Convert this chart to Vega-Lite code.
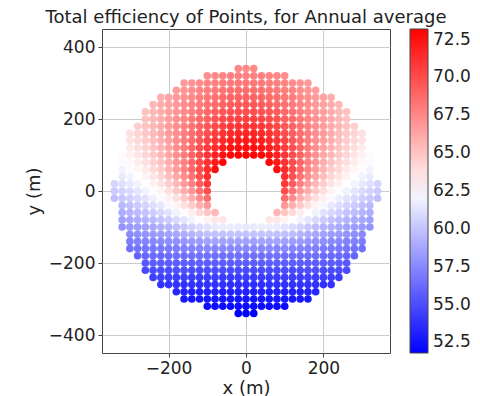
{"$schema":"https://vega.github.io/schema/vega-lite/v6.json","width":288,"height":324,"autosize":{"type":"none"},"padding":{"left":102,"top":29,"right":90,"bottom":43},"background":"white",
"title":{"text":"Total efficiency of Points, for Annual average","font":"DejaVu Sans","fontSize":18,"fontWeight":"normal","color":"#222222","frame":"group","anchor":"middle","baseline":"alphabetic","offset":5,"dy":17},
"config":{"view":{"stroke":"#444444","strokeWidth":1},"axis":{"labelFont":"DejaVu Sans","labelFontSize":17,"labelColor":"#222222","titleFont":"DejaVu Sans","titleFontSize":18,"titleFontWeight":"normal","titleColor":"#222222","tickColor":"#444444","tickSize":4,"labelPadding":3,"domain":false,"gridColor":"#cccccc","gridWidth":1,"zindex":1}},
"data":{"values":[
{"x":-20,"y":340,"e":67.5},{"x":0,"y":340,"e":67.5},{"x":20,"y":340,"e":67.5},
{"x":-100,"y":320,"e":67.3},{"x":-80,"y":320,"e":67.5},{"x":-60,"y":320,"e":67.6},{"x":-40,"y":320,"e":67.8},{"x":-20,"y":320,"e":67.8},{"x":0,"y":320,"e":67.8},{"x":20,"y":320,"e":67.8},{"x":40,"y":320,"e":67.8},{"x":60,"y":320,"e":67.6},{"x":80,"y":320,"e":67.5},{"x":100,"y":320,"e":67.3},
{"x":-160,"y":300,"e":66.7},{"x":-140,"y":300,"e":67.0},{"x":-120,"y":300,"e":67.3},{"x":-100,"y":300,"e":67.6},{"x":-80,"y":300,"e":67.8},{"x":-60,"y":300,"e":68.0},{"x":-40,"y":300,"e":68.1},{"x":-20,"y":300,"e":68.2},{"x":0,"y":300,"e":68.2},{"x":20,"y":300,"e":68.2},{"x":40,"y":300,"e":68.1},{"x":60,"y":300,"e":68.0},{"x":80,"y":300,"e":67.8},{"x":100,"y":300,"e":67.6},{"x":120,"y":300,"e":67.3},{"x":140,"y":300,"e":67.0},{"x":160,"y":300,"e":66.7},
{"x":-180,"y":280,"e":66.6},{"x":-160,"y":280,"e":66.9},{"x":-140,"y":280,"e":67.3},{"x":-120,"y":280,"e":67.6},{"x":-100,"y":280,"e":67.9},{"x":-80,"y":280,"e":68.1},{"x":-60,"y":280,"e":68.3},{"x":-40,"y":280,"e":68.5},{"x":-20,"y":280,"e":68.6},{"x":0,"y":280,"e":68.6},{"x":20,"y":280,"e":68.6},{"x":40,"y":280,"e":68.5},{"x":60,"y":280,"e":68.3},{"x":80,"y":280,"e":68.1},{"x":100,"y":280,"e":67.9},{"x":120,"y":280,"e":67.6},{"x":140,"y":280,"e":67.3},{"x":160,"y":280,"e":66.9},{"x":180,"y":280,"e":66.6},
{"x":-220,"y":260,"e":65.9},{"x":-200,"y":260,"e":66.3},{"x":-180,"y":260,"e":66.7},{"x":-160,"y":260,"e":67.1},{"x":-140,"y":260,"e":67.5},{"x":-120,"y":260,"e":67.9},{"x":-100,"y":260,"e":68.2},{"x":-80,"y":260,"e":68.5},{"x":-60,"y":260,"e":68.7},{"x":-40,"y":260,"e":68.9},{"x":-20,"y":260,"e":69.0},{"x":0,"y":260,"e":69.0},{"x":20,"y":260,"e":69.0},{"x":40,"y":260,"e":68.9},{"x":60,"y":260,"e":68.7},{"x":80,"y":260,"e":68.5},{"x":100,"y":260,"e":68.2},{"x":120,"y":260,"e":67.9},{"x":140,"y":260,"e":67.5},{"x":160,"y":260,"e":67.1},{"x":180,"y":260,"e":66.7},{"x":200,"y":260,"e":66.3},{"x":220,"y":260,"e":65.9},
{"x":-240,"y":240,"e":65.5},{"x":-220,"y":240,"e":66.0},{"x":-200,"y":240,"e":66.4},{"x":-180,"y":240,"e":66.8},{"x":-160,"y":240,"e":67.3},{"x":-140,"y":240,"e":67.7},{"x":-120,"y":240,"e":68.1},{"x":-100,"y":240,"e":68.5},{"x":-80,"y":240,"e":68.8},{"x":-60,"y":240,"e":69.1},{"x":-40,"y":240,"e":69.3},{"x":-20,"y":240,"e":69.5},{"x":0,"y":240,"e":69.5},{"x":20,"y":240,"e":69.5},{"x":40,"y":240,"e":69.3},{"x":60,"y":240,"e":69.1},{"x":80,"y":240,"e":68.8},{"x":100,"y":240,"e":68.5},{"x":120,"y":240,"e":68.1},{"x":140,"y":240,"e":67.7},{"x":160,"y":240,"e":67.3},{"x":180,"y":240,"e":66.8},{"x":200,"y":240,"e":66.4},{"x":220,"y":240,"e":66.0},{"x":240,"y":240,"e":65.5},
{"x":-260,"y":220,"e":65.1},{"x":-240,"y":220,"e":65.5},{"x":-220,"y":220,"e":66.0},{"x":-200,"y":220,"e":66.5},{"x":-180,"y":220,"e":67.0},{"x":-160,"y":220,"e":67.5},{"x":-140,"y":220,"e":67.9},{"x":-120,"y":220,"e":68.4},{"x":-100,"y":220,"e":68.9},{"x":-80,"y":220,"e":69.3},{"x":-60,"y":220,"e":69.6},{"x":-40,"y":220,"e":69.8},{"x":-20,"y":220,"e":70.0},{"x":0,"y":220,"e":70.0},{"x":20,"y":220,"e":70.0},{"x":40,"y":220,"e":69.8},{"x":60,"y":220,"e":69.6},{"x":80,"y":220,"e":69.3},{"x":100,"y":220,"e":68.9},{"x":120,"y":220,"e":68.4},{"x":140,"y":220,"e":67.9},{"x":160,"y":220,"e":67.5},{"x":180,"y":220,"e":67.0},{"x":200,"y":220,"e":66.5},{"x":220,"y":220,"e":66.0},{"x":240,"y":220,"e":65.5},{"x":260,"y":220,"e":65.1},
{"x":-260,"y":200,"e":65.0},{"x":-240,"y":200,"e":65.5},{"x":-220,"y":200,"e":66.0},{"x":-200,"y":200,"e":66.6},{"x":-180,"y":200,"e":67.1},{"x":-160,"y":200,"e":67.6},{"x":-140,"y":200,"e":68.2},{"x":-120,"y":200,"e":68.7},{"x":-100,"y":200,"e":69.2},{"x":-80,"y":200,"e":69.7},{"x":-60,"y":200,"e":70.1},{"x":-40,"y":200,"e":70.3},{"x":-20,"y":200,"e":70.5},{"x":0,"y":200,"e":70.6},{"x":20,"y":200,"e":70.5},{"x":40,"y":200,"e":70.3},{"x":60,"y":200,"e":70.1},{"x":80,"y":200,"e":69.7},{"x":100,"y":200,"e":69.2},{"x":120,"y":200,"e":68.7},{"x":140,"y":200,"e":68.2},{"x":160,"y":200,"e":67.6},{"x":180,"y":200,"e":67.1},{"x":200,"y":200,"e":66.6},{"x":220,"y":200,"e":66.0},{"x":240,"y":200,"e":65.5},{"x":260,"y":200,"e":65.0},
{"x":-280,"y":180,"e":64.5},{"x":-260,"y":180,"e":65.0},{"x":-240,"y":180,"e":65.5},{"x":-220,"y":180,"e":66.0},{"x":-200,"y":180,"e":66.6},{"x":-180,"y":180,"e":67.2},{"x":-160,"y":180,"e":67.8},{"x":-140,"y":180,"e":68.4},{"x":-120,"y":180,"e":69.0},{"x":-100,"y":180,"e":69.6},{"x":-80,"y":180,"e":70.1},{"x":-60,"y":180,"e":70.5},{"x":-40,"y":180,"e":70.9},{"x":-20,"y":180,"e":71.0},{"x":0,"y":180,"e":71.1},{"x":20,"y":180,"e":71.0},{"x":40,"y":180,"e":70.9},{"x":60,"y":180,"e":70.5},{"x":80,"y":180,"e":70.1},{"x":100,"y":180,"e":69.6},{"x":120,"y":180,"e":69.0},{"x":140,"y":180,"e":68.4},{"x":160,"y":180,"e":67.8},{"x":180,"y":180,"e":67.2},{"x":200,"y":180,"e":66.6},{"x":220,"y":180,"e":66.0},{"x":240,"y":180,"e":65.5},{"x":260,"y":180,"e":65.0},{"x":280,"y":180,"e":64.5},
{"x":-300,"y":160,"e":63.8},{"x":-280,"y":160,"e":64.3},{"x":-260,"y":160,"e":64.8},{"x":-240,"y":160,"e":65.4},{"x":-220,"y":160,"e":66.0},{"x":-200,"y":160,"e":66.6},{"x":-180,"y":160,"e":67.2},{"x":-160,"y":160,"e":67.9},{"x":-140,"y":160,"e":68.6},{"x":-120,"y":160,"e":69.3},{"x":-100,"y":160,"e":70.0},{"x":-80,"y":160,"e":70.6},{"x":-60,"y":160,"e":71.0},{"x":-40,"y":160,"e":71.4},{"x":-20,"y":160,"e":71.6},{"x":0,"y":160,"e":71.7},{"x":20,"y":160,"e":71.6},{"x":40,"y":160,"e":71.4},{"x":60,"y":160,"e":71.0},{"x":80,"y":160,"e":70.6},{"x":100,"y":160,"e":70.0},{"x":120,"y":160,"e":69.3},{"x":140,"y":160,"e":68.6},{"x":160,"y":160,"e":67.9},{"x":180,"y":160,"e":67.2},{"x":200,"y":160,"e":66.6},{"x":220,"y":160,"e":66.0},{"x":240,"y":160,"e":65.4},{"x":260,"y":160,"e":64.8},{"x":280,"y":160,"e":64.3},{"x":300,"y":160,"e":63.8},
{"x":-300,"y":140,"e":63.7},{"x":-280,"y":140,"e":64.1},{"x":-260,"y":140,"e":64.7},{"x":-240,"y":140,"e":65.2},{"x":-220,"y":140,"e":65.8},{"x":-200,"y":140,"e":66.5},{"x":-180,"y":140,"e":67.2},{"x":-160,"y":140,"e":68.0},{"x":-140,"y":140,"e":68.8},{"x":-120,"y":140,"e":69.6},{"x":-100,"y":140,"e":70.4},{"x":-80,"y":140,"e":71.0},{"x":-60,"y":140,"e":71.5},{"x":-40,"y":140,"e":71.9},{"x":-20,"y":140,"e":72.1},{"x":0,"y":140,"e":72.2},{"x":20,"y":140,"e":72.1},{"x":40,"y":140,"e":71.9},{"x":60,"y":140,"e":71.5},{"x":80,"y":140,"e":71.0},{"x":100,"y":140,"e":70.4},{"x":120,"y":140,"e":69.6},{"x":140,"y":140,"e":68.8},{"x":160,"y":140,"e":68.0},{"x":180,"y":140,"e":67.2},{"x":200,"y":140,"e":66.5},{"x":220,"y":140,"e":65.8},{"x":240,"y":140,"e":65.2},{"x":260,"y":140,"e":64.7},{"x":280,"y":140,"e":64.1},{"x":300,"y":140,"e":63.7},
{"x":-300,"y":120,"e":63.4},{"x":-280,"y":120,"e":63.9},{"x":-260,"y":120,"e":64.4},{"x":-240,"y":120,"e":65.0},{"x":-220,"y":120,"e":65.7},{"x":-200,"y":120,"e":66.4},{"x":-180,"y":120,"e":67.2},{"x":-160,"y":120,"e":68.1},{"x":-140,"y":120,"e":69.0},{"x":-120,"y":120,"e":69.9},{"x":-100,"y":120,"e":70.7},{"x":-80,"y":120,"e":71.4},{"x":-60,"y":120,"e":72.0},{"x":-40,"y":120,"e":72.4},{"x":-20,"y":120,"e":72.6},{"x":0,"y":120,"e":72.7},{"x":20,"y":120,"e":72.6},{"x":40,"y":120,"e":72.4},{"x":60,"y":120,"e":72.0},{"x":80,"y":120,"e":71.4},{"x":100,"y":120,"e":70.7},{"x":120,"y":120,"e":69.9},{"x":140,"y":120,"e":69.0},{"x":160,"y":120,"e":68.1},{"x":180,"y":120,"e":67.2},{"x":200,"y":120,"e":66.4},{"x":220,"y":120,"e":65.7},{"x":240,"y":120,"e":65.0},{"x":260,"y":120,"e":64.4},{"x":280,"y":120,"e":63.9},{"x":300,"y":120,"e":63.4},
{"x":-320,"y":100,"e":62.7},{"x":-300,"y":100,"e":63.1},{"x":-280,"y":100,"e":63.6},{"x":-260,"y":100,"e":64.2},{"x":-240,"y":100,"e":64.8},{"x":-220,"y":100,"e":65.5},{"x":-200,"y":100,"e":66.2},{"x":-180,"y":100,"e":67.1},{"x":-160,"y":100,"e":68.1},{"x":-140,"y":100,"e":69.1},{"x":-120,"y":100,"e":70.0},{"x":-100,"y":100,"e":71.0},{"x":-80,"y":100,"e":71.8},{"x":-60,"y":100,"e":72.5},{"x":-40,"y":100,"e":72.9},{"x":-20,"y":100,"e":73.1},{"x":0,"y":100,"e":73.2},{"x":20,"y":100,"e":73.1},{"x":40,"y":100,"e":72.9},{"x":60,"y":100,"e":72.5},{"x":80,"y":100,"e":71.8},{"x":100,"y":100,"e":71.0},{"x":120,"y":100,"e":70.0},{"x":140,"y":100,"e":69.1},{"x":160,"y":100,"e":68.1},{"x":180,"y":100,"e":67.1},{"x":200,"y":100,"e":66.2},{"x":220,"y":100,"e":65.5},{"x":240,"y":100,"e":64.8},{"x":260,"y":100,"e":64.2},{"x":280,"y":100,"e":63.6},{"x":300,"y":100,"e":63.1},{"x":320,"y":100,"e":62.7},
{"x":-320,"y":80,"e":62.3},{"x":-300,"y":80,"e":62.8},{"x":-280,"y":80,"e":63.3},{"x":-260,"y":80,"e":63.8},{"x":-240,"y":80,"e":64.4},{"x":-220,"y":80,"e":65.1},{"x":-200,"y":80,"e":65.9},{"x":-180,"y":80,"e":66.9},{"x":-160,"y":80,"e":67.9},{"x":-140,"y":80,"e":69.0},{"x":-120,"y":80,"e":70.1},{"x":-100,"y":80,"e":71.2},{"x":-80,"y":80,"e":72.2},{"x":-60,"y":80,"e":73.0},{"x":60,"y":80,"e":73.0},{"x":80,"y":80,"e":72.2},{"x":100,"y":80,"e":71.2},{"x":120,"y":80,"e":70.1},{"x":140,"y":80,"e":69.0},{"x":160,"y":80,"e":67.9},{"x":180,"y":80,"e":66.9},{"x":200,"y":80,"e":65.9},{"x":220,"y":80,"e":65.1},{"x":240,"y":80,"e":64.4},{"x":260,"y":80,"e":63.8},{"x":280,"y":80,"e":63.3},{"x":300,"y":80,"e":62.8},{"x":320,"y":80,"e":62.3},
{"x":-320,"y":60,"e":62.0},{"x":-300,"y":60,"e":62.4},{"x":-280,"y":60,"e":62.9},{"x":-260,"y":60,"e":63.4},{"x":-240,"y":60,"e":64.1},{"x":-220,"y":60,"e":64.7},{"x":-200,"y":60,"e":65.6},{"x":-180,"y":60,"e":66.6},{"x":-160,"y":60,"e":67.7},{"x":-140,"y":60,"e":68.9},{"x":-120,"y":60,"e":70.1},{"x":-100,"y":60,"e":71.4},{"x":-80,"y":60,"e":72.6},{"x":80,"y":60,"e":72.6},{"x":100,"y":60,"e":71.4},{"x":120,"y":60,"e":70.1},{"x":140,"y":60,"e":68.9},{"x":160,"y":60,"e":67.7},{"x":180,"y":60,"e":66.6},{"x":200,"y":60,"e":65.6},{"x":220,"y":60,"e":64.7},{"x":240,"y":60,"e":64.1},{"x":260,"y":60,"e":63.4},{"x":280,"y":60,"e":62.9},{"x":300,"y":60,"e":62.4},{"x":320,"y":60,"e":62.0},
{"x":-320,"y":40,"e":61.6},{"x":-300,"y":40,"e":62.0},{"x":-280,"y":40,"e":62.5},{"x":-260,"y":40,"e":63.0},{"x":-240,"y":40,"e":63.6},{"x":-220,"y":40,"e":64.2},{"x":-200,"y":40,"e":65.2},{"x":-180,"y":40,"e":66.2},{"x":-160,"y":40,"e":67.3},{"x":-140,"y":40,"e":68.5},{"x":-120,"y":40,"e":69.9},{"x":-100,"y":40,"e":71.3},{"x":100,"y":40,"e":71.3},{"x":120,"y":40,"e":69.9},{"x":140,"y":40,"e":68.5},{"x":160,"y":40,"e":67.3},{"x":180,"y":40,"e":66.2},{"x":200,"y":40,"e":65.2},{"x":220,"y":40,"e":64.2},{"x":240,"y":40,"e":63.6},{"x":260,"y":40,"e":63.0},{"x":280,"y":40,"e":62.5},{"x":300,"y":40,"e":62.0},{"x":320,"y":40,"e":61.6},
{"x":-340,"y":20,"e":60.7},{"x":-320,"y":20,"e":61.1},{"x":-300,"y":20,"e":61.5},{"x":-280,"y":20,"e":62.0},{"x":-260,"y":20,"e":62.5},{"x":-240,"y":20,"e":63.1},{"x":-220,"y":20,"e":63.7},{"x":-200,"y":20,"e":64.6},{"x":-180,"y":20,"e":65.5},{"x":-160,"y":20,"e":66.7},{"x":-140,"y":20,"e":67.9},{"x":-120,"y":20,"e":69.4},{"x":-100,"y":20,"e":70.9},{"x":100,"y":20,"e":70.9},{"x":120,"y":20,"e":69.4},{"x":140,"y":20,"e":67.9},{"x":160,"y":20,"e":66.7},{"x":180,"y":20,"e":65.5},{"x":200,"y":20,"e":64.6},{"x":220,"y":20,"e":63.7},{"x":240,"y":20,"e":63.1},{"x":260,"y":20,"e":62.5},{"x":280,"y":20,"e":62.0},{"x":300,"y":20,"e":61.5},{"x":320,"y":20,"e":61.1},{"x":340,"y":20,"e":60.7},
{"x":-340,"y":0,"e":60.3},{"x":-320,"y":0,"e":60.6},{"x":-300,"y":0,"e":61.0},{"x":-280,"y":0,"e":61.4},{"x":-260,"y":0,"e":61.9},{"x":-240,"y":0,"e":62.4},{"x":-220,"y":0,"e":63.0},{"x":-200,"y":0,"e":63.9},{"x":-180,"y":0,"e":64.8},{"x":-160,"y":0,"e":65.9},{"x":-140,"y":0,"e":67.0},{"x":-120,"y":0,"e":68.5},{"x":-100,"y":0,"e":70.0},{"x":100,"y":0,"e":70.0},{"x":120,"y":0,"e":68.5},{"x":140,"y":0,"e":67.0},{"x":160,"y":0,"e":65.9},{"x":180,"y":0,"e":64.8},{"x":200,"y":0,"e":63.9},{"x":220,"y":0,"e":63.0},{"x":240,"y":0,"e":62.4},{"x":260,"y":0,"e":61.9},{"x":280,"y":0,"e":61.4},{"x":300,"y":0,"e":61.0},{"x":320,"y":0,"e":60.6},{"x":340,"y":0,"e":60.3},
{"x":-340,"y":-20,"e":59.8},{"x":-320,"y":-20,"e":60.2},{"x":-300,"y":-20,"e":60.5},{"x":-280,"y":-20,"e":60.9},{"x":-260,"y":-20,"e":61.3},{"x":-240,"y":-20,"e":61.8},{"x":-220,"y":-20,"e":62.3},{"x":-200,"y":-20,"e":63.1},{"x":-180,"y":-20,"e":63.9},{"x":-160,"y":-20,"e":64.9},{"x":-140,"y":-20,"e":65.9},{"x":-120,"y":-20,"e":67.3},{"x":-100,"y":-20,"e":68.6},{"x":100,"y":-20,"e":68.6},{"x":120,"y":-20,"e":67.3},{"x":140,"y":-20,"e":65.9},{"x":160,"y":-20,"e":64.9},{"x":180,"y":-20,"e":63.9},{"x":200,"y":-20,"e":63.1},{"x":220,"y":-20,"e":62.3},{"x":240,"y":-20,"e":61.8},{"x":260,"y":-20,"e":61.3},{"x":280,"y":-20,"e":60.9},{"x":300,"y":-20,"e":60.5},{"x":320,"y":-20,"e":60.2},{"x":340,"y":-20,"e":59.8},
{"x":-320,"y":-40,"e":59.6},{"x":-300,"y":-40,"e":59.9},{"x":-280,"y":-40,"e":60.3},{"x":-260,"y":-40,"e":60.7},{"x":-240,"y":-40,"e":61.1},{"x":-220,"y":-40,"e":61.5},{"x":-200,"y":-40,"e":62.2},{"x":-180,"y":-40,"e":63.0},{"x":-160,"y":-40,"e":63.8},{"x":-140,"y":-40,"e":64.7},{"x":-120,"y":-40,"e":65.8},{"x":-100,"y":-40,"e":66.8},{"x":100,"y":-40,"e":66.8},{"x":120,"y":-40,"e":65.8},{"x":140,"y":-40,"e":64.7},{"x":160,"y":-40,"e":63.8},{"x":180,"y":-40,"e":63.0},{"x":200,"y":-40,"e":62.2},{"x":220,"y":-40,"e":61.5},{"x":240,"y":-40,"e":61.1},{"x":260,"y":-40,"e":60.7},{"x":280,"y":-40,"e":60.3},{"x":300,"y":-40,"e":59.9},{"x":320,"y":-40,"e":59.6},
{"x":-320,"y":-60,"e":59.1},{"x":-300,"y":-60,"e":59.4},{"x":-280,"y":-60,"e":59.7},{"x":-260,"y":-60,"e":60.0},{"x":-240,"y":-60,"e":60.4},{"x":-220,"y":-60,"e":60.8},{"x":-200,"y":-60,"e":61.3},{"x":-180,"y":-60,"e":61.9},{"x":-160,"y":-60,"e":62.6},{"x":-140,"y":-60,"e":63.3},{"x":-120,"y":-60,"e":64.1},{"x":-100,"y":-60,"e":64.9},{"x":-80,"y":-60,"e":65.5},{"x":80,"y":-60,"e":65.5},{"x":100,"y":-60,"e":64.9},{"x":120,"y":-60,"e":64.1},{"x":140,"y":-60,"e":63.3},{"x":160,"y":-60,"e":62.6},{"x":180,"y":-60,"e":61.9},{"x":200,"y":-60,"e":61.3},{"x":220,"y":-60,"e":60.8},{"x":240,"y":-60,"e":60.4},{"x":260,"y":-60,"e":60.0},{"x":280,"y":-60,"e":59.7},{"x":300,"y":-60,"e":59.4},{"x":320,"y":-60,"e":59.1},
{"x":-320,"y":-80,"e":58.5},{"x":-300,"y":-80,"e":58.8},{"x":-280,"y":-80,"e":59.0},{"x":-260,"y":-80,"e":59.3},{"x":-240,"y":-80,"e":59.6},{"x":-220,"y":-80,"e":60.0},{"x":-200,"y":-80,"e":60.3},{"x":-180,"y":-80,"e":60.9},{"x":-160,"y":-80,"e":61.4},{"x":-140,"y":-80,"e":62.0},{"x":-120,"y":-80,"e":62.5},{"x":-100,"y":-80,"e":63.0},{"x":-80,"y":-80,"e":63.5},{"x":-60,"y":-80,"e":63.6},{"x":60,"y":-80,"e":63.6},{"x":80,"y":-80,"e":63.5},{"x":100,"y":-80,"e":63.0},{"x":120,"y":-80,"e":62.5},{"x":140,"y":-80,"e":62.0},{"x":160,"y":-80,"e":61.4},{"x":180,"y":-80,"e":60.9},{"x":200,"y":-80,"e":60.3},{"x":220,"y":-80,"e":60.0},{"x":240,"y":-80,"e":59.6},{"x":260,"y":-80,"e":59.3},{"x":280,"y":-80,"e":59.0},{"x":300,"y":-80,"e":58.8},{"x":320,"y":-80,"e":58.5},
{"x":-320,"y":-100,"e":58.0},{"x":-300,"y":-100,"e":58.2},{"x":-280,"y":-100,"e":58.4},{"x":-260,"y":-100,"e":58.6},{"x":-240,"y":-100,"e":58.9},{"x":-220,"y":-100,"e":59.2},{"x":-200,"y":-100,"e":59.4},{"x":-180,"y":-100,"e":59.8},{"x":-160,"y":-100,"e":60.2},{"x":-140,"y":-100,"e":60.6},{"x":-120,"y":-100,"e":61.0},{"x":-100,"y":-100,"e":61.3},{"x":-80,"y":-100,"e":61.6},{"x":-60,"y":-100,"e":61.7},{"x":-40,"y":-100,"e":61.7},{"x":-20,"y":-100,"e":61.6},{"x":0,"y":-100,"e":61.5},{"x":20,"y":-100,"e":61.6},{"x":40,"y":-100,"e":61.7},{"x":60,"y":-100,"e":61.7},{"x":80,"y":-100,"e":61.6},{"x":100,"y":-100,"e":61.3},{"x":120,"y":-100,"e":61.0},{"x":140,"y":-100,"e":60.6},{"x":160,"y":-100,"e":60.2},{"x":180,"y":-100,"e":59.8},{"x":200,"y":-100,"e":59.4},{"x":220,"y":-100,"e":59.2},{"x":240,"y":-100,"e":58.9},{"x":260,"y":-100,"e":58.6},{"x":280,"y":-100,"e":58.4},{"x":300,"y":-100,"e":58.2},{"x":320,"y":-100,"e":58.0},
{"x":-300,"y":-120,"e":57.6},{"x":-280,"y":-120,"e":57.8},{"x":-260,"y":-120,"e":58.0},{"x":-240,"y":-120,"e":58.2},{"x":-220,"y":-120,"e":58.4},{"x":-200,"y":-120,"e":58.6},{"x":-180,"y":-120,"e":58.8},{"x":-160,"y":-120,"e":59.1},{"x":-140,"y":-120,"e":59.4},{"x":-120,"y":-120,"e":59.7},{"x":-100,"y":-120,"e":59.9},{"x":-80,"y":-120,"e":59.9},{"x":-60,"y":-120,"e":60.0},{"x":-40,"y":-120,"e":60.0},{"x":-20,"y":-120,"e":60.0},{"x":0,"y":-120,"e":60.0},{"x":20,"y":-120,"e":60.0},{"x":40,"y":-120,"e":60.0},{"x":60,"y":-120,"e":60.0},{"x":80,"y":-120,"e":59.9},{"x":100,"y":-120,"e":59.9},{"x":120,"y":-120,"e":59.7},{"x":140,"y":-120,"e":59.4},{"x":160,"y":-120,"e":59.1},{"x":180,"y":-120,"e":58.8},{"x":200,"y":-120,"e":58.6},{"x":220,"y":-120,"e":58.4},{"x":240,"y":-120,"e":58.2},{"x":260,"y":-120,"e":58.0},{"x":280,"y":-120,"e":57.8},{"x":300,"y":-120,"e":57.6},
{"x":-300,"y":-140,"e":57.0},{"x":-280,"y":-140,"e":57.2},{"x":-260,"y":-140,"e":57.3},{"x":-240,"y":-140,"e":57.5},{"x":-220,"y":-140,"e":57.6},{"x":-200,"y":-140,"e":57.8},{"x":-180,"y":-140,"e":57.9},{"x":-160,"y":-140,"e":58.1},{"x":-140,"y":-140,"e":58.3},{"x":-120,"y":-140,"e":58.4},{"x":-100,"y":-140,"e":58.6},{"x":-80,"y":-140,"e":58.7},{"x":-60,"y":-140,"e":58.6},{"x":-40,"y":-140,"e":58.6},{"x":-20,"y":-140,"e":58.5},{"x":0,"y":-140,"e":58.5},{"x":20,"y":-140,"e":58.5},{"x":40,"y":-140,"e":58.6},{"x":60,"y":-140,"e":58.6},{"x":80,"y":-140,"e":58.7},{"x":100,"y":-140,"e":58.6},{"x":120,"y":-140,"e":58.4},{"x":140,"y":-140,"e":58.3},{"x":160,"y":-140,"e":58.1},{"x":180,"y":-140,"e":57.9},{"x":200,"y":-140,"e":57.8},{"x":220,"y":-140,"e":57.6},{"x":240,"y":-140,"e":57.5},{"x":260,"y":-140,"e":57.3},{"x":280,"y":-140,"e":57.2},{"x":300,"y":-140,"e":57.0},
{"x":-300,"y":-160,"e":56.5},{"x":-280,"y":-160,"e":56.6},{"x":-260,"y":-160,"e":56.7},{"x":-240,"y":-160,"e":56.8},{"x":-220,"y":-160,"e":56.9},{"x":-200,"y":-160,"e":57.0},{"x":-180,"y":-160,"e":57.1},{"x":-160,"y":-160,"e":57.2},{"x":-140,"y":-160,"e":57.3},{"x":-120,"y":-160,"e":57.4},{"x":-100,"y":-160,"e":57.5},{"x":-80,"y":-160,"e":57.4},{"x":-60,"y":-160,"e":57.5},{"x":-40,"y":-160,"e":57.5},{"x":-20,"y":-160,"e":57.5},{"x":0,"y":-160,"e":57.5},{"x":20,"y":-160,"e":57.5},{"x":40,"y":-160,"e":57.5},{"x":60,"y":-160,"e":57.5},{"x":80,"y":-160,"e":57.4},{"x":100,"y":-160,"e":57.5},{"x":120,"y":-160,"e":57.4},{"x":140,"y":-160,"e":57.3},{"x":160,"y":-160,"e":57.2},{"x":180,"y":-160,"e":57.1},{"x":200,"y":-160,"e":57.0},{"x":220,"y":-160,"e":56.9},{"x":240,"y":-160,"e":56.8},{"x":260,"y":-160,"e":56.7},{"x":280,"y":-160,"e":56.6},{"x":300,"y":-160,"e":56.5},
{"x":-280,"y":-180,"e":56.0},{"x":-260,"y":-180,"e":56.1},{"x":-240,"y":-180,"e":56.2},{"x":-220,"y":-180,"e":56.2},{"x":-200,"y":-180,"e":56.3},{"x":-180,"y":-180,"e":56.4},{"x":-160,"y":-180,"e":56.4},{"x":-140,"y":-180,"e":56.5},{"x":-120,"y":-180,"e":56.5},{"x":-100,"y":-180,"e":56.5},{"x":-80,"y":-180,"e":56.5},{"x":-60,"y":-180,"e":56.5},{"x":-40,"y":-180,"e":56.5},{"x":-20,"y":-180,"e":56.4},{"x":0,"y":-180,"e":56.4},{"x":20,"y":-180,"e":56.4},{"x":40,"y":-180,"e":56.5},{"x":60,"y":-180,"e":56.5},{"x":80,"y":-180,"e":56.5},{"x":100,"y":-180,"e":56.5},{"x":120,"y":-180,"e":56.5},{"x":140,"y":-180,"e":56.5},{"x":160,"y":-180,"e":56.4},{"x":180,"y":-180,"e":56.4},{"x":200,"y":-180,"e":56.3},{"x":220,"y":-180,"e":56.2},{"x":240,"y":-180,"e":56.2},{"x":260,"y":-180,"e":56.1},{"x":280,"y":-180,"e":56.0},
{"x":-260,"y":-200,"e":55.5},{"x":-240,"y":-200,"e":55.6},{"x":-220,"y":-200,"e":55.6},{"x":-200,"y":-200,"e":55.7},{"x":-180,"y":-200,"e":55.7},{"x":-160,"y":-200,"e":55.7},{"x":-140,"y":-200,"e":55.7},{"x":-120,"y":-200,"e":55.7},{"x":-100,"y":-200,"e":55.7},{"x":-80,"y":-200,"e":55.7},{"x":-60,"y":-200,"e":55.7},{"x":-40,"y":-200,"e":55.7},{"x":-20,"y":-200,"e":55.7},{"x":0,"y":-200,"e":55.7},{"x":20,"y":-200,"e":55.7},{"x":40,"y":-200,"e":55.7},{"x":60,"y":-200,"e":55.7},{"x":80,"y":-200,"e":55.7},{"x":100,"y":-200,"e":55.7},{"x":120,"y":-200,"e":55.7},{"x":140,"y":-200,"e":55.7},{"x":160,"y":-200,"e":55.7},{"x":180,"y":-200,"e":55.7},{"x":200,"y":-200,"e":55.7},{"x":220,"y":-200,"e":55.6},{"x":240,"y":-200,"e":55.6},{"x":260,"y":-200,"e":55.5},
{"x":-260,"y":-220,"e":54.9},{"x":-240,"y":-220,"e":55.0},{"x":-220,"y":-220,"e":55.0},{"x":-200,"y":-220,"e":55.0},{"x":-180,"y":-220,"e":55.1},{"x":-160,"y":-220,"e":55.1},{"x":-140,"y":-220,"e":55.0},{"x":-120,"y":-220,"e":55.0},{"x":-100,"y":-220,"e":55.0},{"x":-80,"y":-220,"e":55.0},{"x":-60,"y":-220,"e":55.0},{"x":-40,"y":-220,"e":54.9},{"x":-20,"y":-220,"e":54.9},{"x":0,"y":-220,"e":54.9},{"x":20,"y":-220,"e":54.9},{"x":40,"y":-220,"e":54.9},{"x":60,"y":-220,"e":55.0},{"x":80,"y":-220,"e":55.0},{"x":100,"y":-220,"e":55.0},{"x":120,"y":-220,"e":55.0},{"x":140,"y":-220,"e":55.0},{"x":160,"y":-220,"e":55.1},{"x":180,"y":-220,"e":55.1},{"x":200,"y":-220,"e":55.0},{"x":220,"y":-220,"e":55.0},{"x":240,"y":-220,"e":55.0},{"x":260,"y":-220,"e":54.9},
{"x":-240,"y":-240,"e":54.4},{"x":-220,"y":-240,"e":54.5},{"x":-200,"y":-240,"e":54.5},{"x":-180,"y":-240,"e":54.4},{"x":-160,"y":-240,"e":54.5},{"x":-140,"y":-240,"e":54.4},{"x":-120,"y":-240,"e":54.4},{"x":-100,"y":-240,"e":54.4},{"x":-80,"y":-240,"e":54.4},{"x":-60,"y":-240,"e":54.3},{"x":-40,"y":-240,"e":54.3},{"x":-20,"y":-240,"e":54.3},{"x":0,"y":-240,"e":54.3},{"x":20,"y":-240,"e":54.3},{"x":40,"y":-240,"e":54.3},{"x":60,"y":-240,"e":54.3},{"x":80,"y":-240,"e":54.4},{"x":100,"y":-240,"e":54.4},{"x":120,"y":-240,"e":54.4},{"x":140,"y":-240,"e":54.4},{"x":160,"y":-240,"e":54.5},{"x":180,"y":-240,"e":54.4},{"x":200,"y":-240,"e":54.5},{"x":220,"y":-240,"e":54.5},{"x":240,"y":-240,"e":54.4},
{"x":-220,"y":-260,"e":53.9},{"x":-200,"y":-260,"e":53.9},{"x":-180,"y":-260,"e":53.9},{"x":-160,"y":-260,"e":53.9},{"x":-140,"y":-260,"e":53.9},{"x":-120,"y":-260,"e":53.8},{"x":-100,"y":-260,"e":53.8},{"x":-80,"y":-260,"e":53.8},{"x":-60,"y":-260,"e":53.8},{"x":-40,"y":-260,"e":53.7},{"x":-20,"y":-260,"e":53.7},{"x":0,"y":-260,"e":53.7},{"x":20,"y":-260,"e":53.7},{"x":40,"y":-260,"e":53.7},{"x":60,"y":-260,"e":53.8},{"x":80,"y":-260,"e":53.8},{"x":100,"y":-260,"e":53.8},{"x":120,"y":-260,"e":53.8},{"x":140,"y":-260,"e":53.9},{"x":160,"y":-260,"e":53.9},{"x":180,"y":-260,"e":53.9},{"x":200,"y":-260,"e":53.9},{"x":220,"y":-260,"e":53.9},
{"x":-180,"y":-280,"e":53.4},{"x":-160,"y":-280,"e":53.4},{"x":-140,"y":-280,"e":53.3},{"x":-120,"y":-280,"e":53.3},{"x":-100,"y":-280,"e":53.3},{"x":-80,"y":-280,"e":53.3},{"x":-60,"y":-280,"e":53.2},{"x":-40,"y":-280,"e":53.2},{"x":-20,"y":-280,"e":53.2},{"x":0,"y":-280,"e":53.2},{"x":20,"y":-280,"e":53.2},{"x":40,"y":-280,"e":53.2},{"x":60,"y":-280,"e":53.2},{"x":80,"y":-280,"e":53.3},{"x":100,"y":-280,"e":53.3},{"x":120,"y":-280,"e":53.3},{"x":140,"y":-280,"e":53.3},{"x":160,"y":-280,"e":53.4},{"x":180,"y":-280,"e":53.4},
{"x":-160,"y":-300,"e":52.9},{"x":-140,"y":-300,"e":52.8},{"x":-120,"y":-300,"e":52.8},{"x":-100,"y":-300,"e":52.8},{"x":-80,"y":-300,"e":52.8},{"x":-60,"y":-300,"e":52.7},{"x":-40,"y":-300,"e":52.7},{"x":-20,"y":-300,"e":52.7},{"x":0,"y":-300,"e":52.7},{"x":20,"y":-300,"e":52.7},{"x":40,"y":-300,"e":52.7},{"x":60,"y":-300,"e":52.7},{"x":80,"y":-300,"e":52.8},{"x":100,"y":-300,"e":52.8},{"x":120,"y":-300,"e":52.8},{"x":140,"y":-300,"e":52.8},{"x":160,"y":-300,"e":52.9},
{"x":-100,"y":-320,"e":52.3},{"x":-80,"y":-320,"e":52.3},{"x":-60,"y":-320,"e":52.3},{"x":-40,"y":-320,"e":52.3},{"x":-20,"y":-320,"e":52.3},{"x":0,"y":-320,"e":52.2},{"x":20,"y":-320,"e":52.3},{"x":40,"y":-320,"e":52.3},{"x":60,"y":-320,"e":52.3},{"x":80,"y":-320,"e":52.3},{"x":100,"y":-320,"e":52.3},
{"x":-20,"y":-340,"e":51.8},{"x":0,"y":-340,"e":51.8},{"x":20,"y":-340,"e":51.8}
]},
"mark":{"type":"circle","size":58,"opacity":1},
"encoding":{
"x":{"field":"x","type":"quantitative","scale":{"domain":[-372,372],"nice":false,"zero":false},"axis":{"values":[-200,0,200],"title":"x (m)","titlePadding":3,"grid":true}},
"y":{"field":"y","type":"quantitative","scale":{"domain":[-450,450],"nice":false,"zero":false},"axis":{"values":[-400,-200,0,200,400],"title":"y (m)","titlePadding":5,"grid":true}},
"color":{"field":"e","type":"quantitative","scale":{"domain":[51.8,62.5,73.2],"range":["#0000ff","#ffffff","#ff0000"],"interpolate":"rgb"},"legend":{"title":null,"orient":"none","direction":"vertical","legendX":308,"legendY":0,"gradientLength":324,"gradientThickness":18,"values":[52.5,55,57.5,60,62.5,65,67.5,70,72.5],"format":".1f","labelFont":"DejaVu Sans","labelFontSize":17,"labelColor":"#222222","labelOffset":5,"gradientStrokeColor":"#444444","gradientStrokeWidth":1}}
}}
